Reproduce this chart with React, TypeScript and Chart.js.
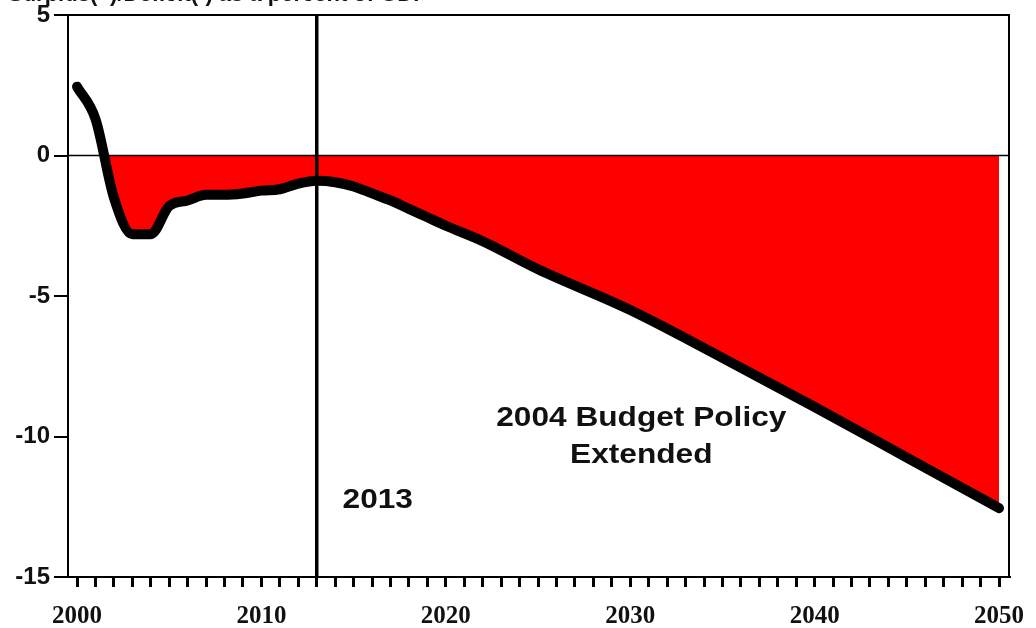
import React, { useEffect, useRef } from "react";
import { Chart, registerables } from "chart.js";

Chart.register(...registerables);

const years = [
  2000, 2001, 2002, 2003, 2004, 2005, 2006, 2007, 2008, 2009, 2010, 2011, 2012,
  2013, 2014, 2015, 2016, 2017, 2018, 2019, 2020, 2022, 2025, 2030, 2035, 2040,
  2045, 2050,
];
const balance = [
  2.45, 1.3, -1.5, -2.8, -2.8, -1.8, -1.6, -1.4, -1.4, -1.35, -1.25, -1.2, -1.0,
  -0.9, -0.95, -1.1, -1.35, -1.6, -1.9, -2.2, -2.5, -3.05, -4.05, -5.5, -7.2,
  -8.95, -10.75, -12.55,
];
const decadeLabels = [2000, 2010, 2020, 2030, 2040, 2050];
const yTicks = [5, 0, -5, -10, -15];
const markerYear = 2013;
const titleText = "Surplus(+)/Deficit(-) as a percent of GDP";
const policyLabel = ["2004 Budget Policy", "Extended"];
const markerLabel = "2013";

function stretchedText(ctx: any, text: string, x: number, y: number, sx: number) {
  ctx.save();
  ctx.translate(x, y);
  ctx.scale(sx, 1);
  ctx.fillText(text, 0, 0);
  ctx.restore();
}

const overlay = {
  id: "overlay",
  afterDatasetsDraw(chart: any) {
    const { ctx, chartArea, scales } = chart;
    const x = scales.x;
    const y = scales.y;
    ctx.save();
    // zero line
    ctx.strokeStyle = "#000";
    ctx.lineWidth = 1.5;
    ctx.beginPath();
    ctx.moveTo(chartArea.left, y.getPixelForValue(0));
    ctx.lineTo(chartArea.right, y.getPixelForValue(0));
    ctx.stroke();
    // marker vertical line
    ctx.lineWidth = 3.5;
    const mx = x.getPixelForValue(markerYear);
    ctx.beginPath();
    ctx.moveTo(mx, chartArea.top);
    ctx.lineTo(mx, chartArea.bottom);
    ctx.stroke();
    // frame top & right
    ctx.lineWidth = 2;
    ctx.beginPath();
    ctx.moveTo(chartArea.left, chartArea.top);
    ctx.lineTo(chartArea.right, chartArea.top);
    ctx.lineTo(chartArea.right, chartArea.bottom);
    ctx.stroke();
    // annotations
    ctx.fillStyle = "#111";
    ctx.font = "bold 28px 'Liberation Sans', Arial, sans-serif";
    ctx.textAlign = "center";
    ctx.textBaseline = "alphabetic";
    stretchedText(ctx, policyLabel[0], x.getPixelForValue(2030.6), y.getPixelForValue(-9.64), 1.13);
    stretchedText(ctx, policyLabel[1], x.getPixelForValue(2030.6), y.getPixelForValue(-10.96), 1.13);
    ctx.textAlign = "left";
    stretchedText(ctx, markerLabel, x.getPixelForValue(2014.4), y.getPixelForValue(-12.56), 1.13);
    // clipped title at very top
    ctx.font = "bold 22px 'Liberation Sans', Arial, sans-serif";
    ctx.fillText(titleText, 8, 1);
    ctx.restore();
  },
};

export default function App() {
  const ref = useRef<HTMLCanvasElement | null>(null);
  useEffect(() => {
    if (!ref.current) return;
    const chart = new Chart(ref.current, {
      type: "line",
      data: {
        datasets: [
          {
            data: years.map((yr, i) => ({ x: yr, y: balance[i] })),
            borderColor: "#000",
            borderWidth: 10,
            borderCapStyle: "round",
            borderJoinStyle: "round",
            pointRadius: 0,
            cubicInterpolationMode: "monotone",
            fill: {
              target: { value: 0 },
              above: "rgba(0,0,0,0)",
              below: "#ff0000",
            },
          } as any,
        ],
      },
      options: {
        animation: false,
        responsive: true,
        maintainAspectRatio: false,
        layout: { padding: { top: 15, right: 27, left: 0, bottom: 0 } },
        plugins: {
          legend: { display: false },
          tooltip: { enabled: false },
          title: { display: false },
        },
        scales: {
          x: {
            type: "linear",
            min: 1999.51,
            max: 2050.54,
            afterFit: (s: any) => {
              s.height = 51;
              s.paddingLeft = 0;
              s.paddingRight = 0;
            },
            border: { display: true, color: "#000", width: 2 },
            grid: {
              drawOnChartArea: false,
              drawTicks: true,
              tickLength: 10,
              tickColor: "#000",
              lineWidth: 3,
            },
            ticks: {
              stepSize: 1,
              includeBounds: false,
              autoSkip: false,
              maxRotation: 0,
              padding: 15,
              color: "#111",
              font: { family: "'Liberation Serif', 'Times New Roman', serif", weight: "bold", size: 25 },
              callback: (v: any) => (decadeLabels.includes(Number(v)) ? String(v) : ""),
            },
          } as any,
          y: {
            min: -15,
            max: 5,
            afterFit: (s: any) => {
              s.width = 68;
              s.paddingTop = 0;
              s.paddingBottom = 0;
            },
            afterBuildTicks: (s: any) => {
              s.ticks = yTicks.map((v) => ({ value: v }));
            },
            border: { display: true, color: "#000", width: 2 },
            grid: {
              drawOnChartArea: false,
              drawTicks: true,
              tickLength: 14,
              tickColor: "#000",
              lineWidth: 2,
            },
            ticks: {
              padding: 4,
              color: "#111",
              font: { family: "'Liberation Sans', Arial, sans-serif", weight: "bold", size: 24, lineHeight: 1 },
              callback: (v: any) => String(v),
            },
          } as any,
        },
      },
      plugins: [overlay],
    });
    return () => chart.destroy();
  }, []);
  return (
    <div style={{ position: "fixed", left: 0, top: 0, width: 1036, height: 628, background: "#fff" }}>
      <canvas ref={ref} />
    </div>
  );
}
